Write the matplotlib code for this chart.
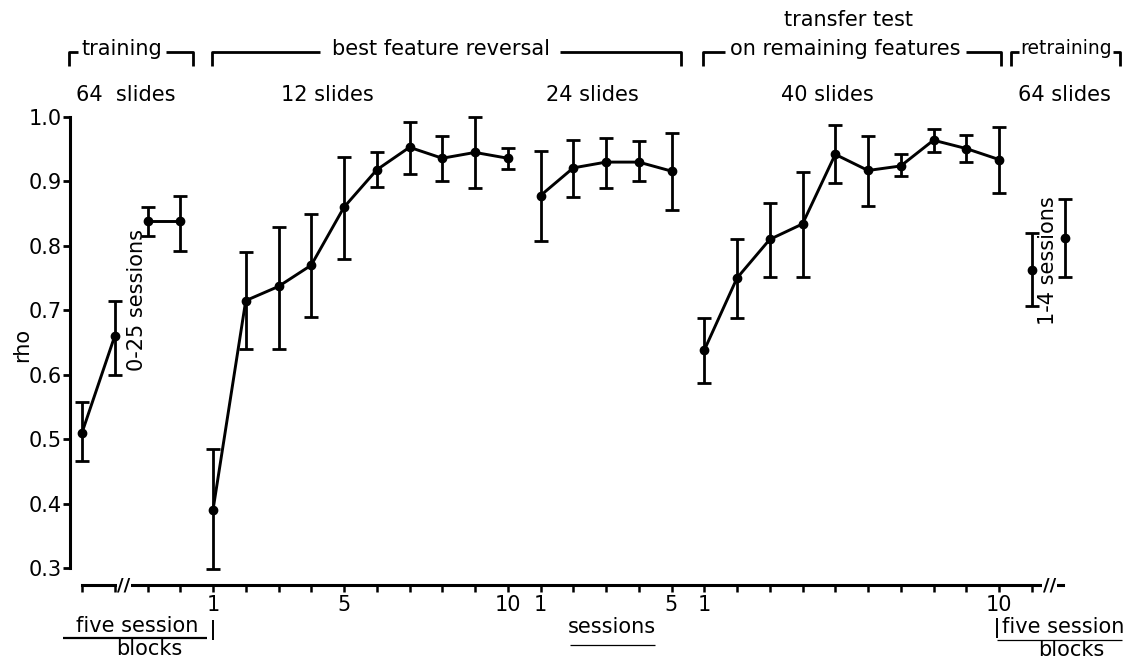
import matplotlib
matplotlib.use("Agg")
import matplotlib.pyplot as plt
from matplotlib.lines import Line2D
import numpy as np

# ---------------- data ----------------
train_blocks = [1, 2, 3, 4]
train_rho = [0.510, 0.660, 0.838, 0.838]
train_hi = [0.557, 0.715, 0.860, 0.878]
train_lo = [0.466, 0.600, 0.815, 0.792]

rev12_sessions = [1, 2, 3, 4, 5, 6, 7, 8, 9, 10]
rev12_rho = [0.390, 0.715, 0.737, 0.770, 0.860, 0.918, 0.953, 0.936, 0.945, 0.936]
rev12_hi = [0.484, 0.790, 0.830, 0.850, 0.938, 0.945, 0.992, 0.970, 1.000, 0.952]
rev12_lo = [0.298, 0.640, 0.640, 0.690, 0.780, 0.892, 0.912, 0.900, 0.890, 0.920]

rev24_sessions = [1, 2, 3, 4, 5]
rev24_rho = [0.878, 0.921, 0.930, 0.930, 0.916]
rev24_hi = [0.948, 0.965, 0.967, 0.962, 0.975]
rev24_lo = [0.807, 0.876, 0.890, 0.900, 0.855]

trans_sessions = [1, 2, 3, 4, 5, 6, 7, 8, 9, 10]
trans_rho = [0.638, 0.750, 0.810, 0.834, 0.942, 0.917, 0.924, 0.964, 0.951, 0.934]
trans_hi = [0.688, 0.810, 0.867, 0.915, 0.987, 0.970, 0.942, 0.982, 0.972, 0.985]
trans_lo = [0.587, 0.688, 0.752, 0.752, 0.897, 0.862, 0.908, 0.945, 0.930, 0.882]

retrain_blocks = [1, 2]
retrain_rho = [0.762, 0.812]
retrain_hi = [0.820, 0.872]
retrain_lo = [0.706, 0.752]

y_ticks = [0.3, 0.4, 0.5, 0.6, 0.7, 0.8, 0.9, 1.0]
y_ticklabels = ["0.3", "0.4", "0.5", "0.6", "0.7", "0.8", "0.9", "1.0"]

# ---------------- layout ----------------
W, H = 1131, 662
FS = 15
plt.rcParams['font.family'] = ['DejaVu Sans']


def fx(x):
    return x / W


def fy(y):
    return 1 - y / H


# offsets of each section on the shared session axis
OFF_TRAIN = -5
OFF_REV12 = -1
OFF_REV24 = 9
OFF_TRANS = 14
OFF_RETRAIN = 24

fig = plt.figure(figsize=(W / 100, H / 100), dpi=100)
ax = fig.add_axes([fx(70), fy(585), fx(1100) - fx(70), fy(117) - fy(585)])
y_bottom = 0.3 - 17 / 644.3
ax.set_xlim((70 - 213) / 32.75, (1100 - 213) / 32.75)
ax.set_ylim(y_bottom, 1.0)

LW = 2.1


def draw(xs, rho, hi, lo, off, segments):
    x = np.asarray(xs, float) + off
    r = np.asarray(rho)
    yerr = [r - np.asarray(lo), np.asarray(hi) - r]
    ax.errorbar(x, r, yerr=yerr, fmt='none', ecolor='black', elinewidth=2.0,
                capsize=5, capthick=2.0, clip_on=False, zorder=2)
    for a, b in segments:
        ax.plot(x[a:b], r[a:b], '-', color='black', lw=LW, zorder=3, clip_on=False)
    ax.plot(x, r, 'o', color='black', ms=6, zorder=4, clip_on=False)


draw(train_blocks, train_rho, train_hi, train_lo, OFF_TRAIN, [(0, 2), (2, 4)])
draw(rev12_sessions, rev12_rho, rev12_hi, rev12_lo, OFF_REV12, [(0, 10)])
draw(rev24_sessions, rev24_rho, rev24_hi, rev24_lo, OFF_REV24, [(0, 5)])
draw(trans_sessions, trans_rho, trans_hi, trans_lo, OFF_TRANS, [(0, 10)])
draw(retrain_blocks, retrain_rho, retrain_hi, retrain_lo, OFF_RETRAIN, [])

# spines
for s in ['top', 'right']:
    ax.spines[s].set_visible(False)
ax.spines['left'].set_bounds(0.3, 1.0)
ax.spines['left'].set_linewidth(2.2)
ax.spines['bottom'].set_bounds(-4, 25.95)
ax.spines['bottom'].set_linewidth(2.2)

ax.set_yticks(y_ticks)
ax.set_yticklabels(y_ticklabels)
ax.tick_params(axis='y', direction='out', length=5, width=2.0, labelsize=FS, pad=1)

x_major = [0, 4, 9, 10, 14, 15, 24]
x_major_labels = ["1", "5", "10", "1", "5", "1", "10"]
ax.set_xticks(x_major)
ax.set_xticklabels(x_major_labels)
ax.set_xticks([v for v in range(-4, 26) if v not in x_major], minor=True)
ax.tick_params(axis='x', which='both', direction='out', length=5, width=1.8,
               labelsize=FS, pad=2)

# axis breaks
for xb in (-2.72, 25.55):
    ax.text(xb, y_bottom, "//", ha='center', va='center', fontsize=13,
            fontweight='bold', bbox=dict(facecolor='white', edgecolor='none', pad=0.5),
            zorder=5, clip_on=False)

# y label and annotations
fig.text(fx(22), fy(345), "rho", rotation=90, ha='center', va='center', fontsize=FS)
fig.text(fx(137), fy(300), "0-25 sessions", rotation=90, ha='center', va='center', fontsize=FS)
fig.text(fx(1048), fy(261), "1-4 sessions", rotation=90, ha='center', va='center', fontsize=FS)

# headers
fig.text(fx(848), fy(20), "transfer test", ha='center', va='center', fontsize=FS)
hy = 49
fig.text(fx(122), fy(hy), "training", ha='center', va='center', fontsize=FS)
fig.text(fx(441), fy(hy), "best feature reversal", ha='center', va='center', fontsize=FS)
fig.text(fx(845), fy(hy), "on remaining features", ha='center', va='center', fontsize=FS)
fig.text(fx(1066), fy(hy), "retraining", ha='center', va='center', fontsize=FS - 1.5)

for xc, lab in [(126, "64  slides"), (327, "12 slides"), (592, "24 slides"),
                (827, "40 slides"), (1064, "64 slides")]:
    fig.text(fx(xc), fy(95), lab, ha='center', va='center', fontsize=FS)


def fline(xs, ys, lw=2.0):
    fig.add_artist(Line2D([fx(v) for v in xs], [fy(v) for v in ys], color='black',
                          lw=lw, solid_capstyle='butt'))


ly, ld = 52, 66
# training bracket
fline([69, 69, 78], [ld, ly, ly])
fline([166, 193, 193], [ly, ly, ld])
# best feature reversal bracket
fline([212, 212, 320], [ld, ly, ly])
fline([560, 681, 681], [ly, ly, ld])
# transfer test bracket
fline([703, 703, 725], [ld, ly, ly])
fline([966, 1001, 1001], [ly, ly, ld])
# retraining bracket
fline([1011, 1011, 1019], [ld, ly, ly])
fline([1113, 1120, 1120], [ly, ly, ld])

# bottom labels
fig.text(fx(137), fy(626), "five session", ha='center', va='center', fontsize=FS)
fline([63, 207], [638, 638], lw=1.6)
fig.text(fx(149), fy(649), "blocks", ha='center', va='center', fontsize=FS)
fline([213, 213], [620, 640], lw=1.4)

fig.text(fx(612), fy(627), "sessions", ha='center', va='center', fontsize=FS)
fline([570, 655], [645, 645], lw=0.9)

fig.text(fx(1063), fy(627), "five session", ha='center', va='center', fontsize=FS)
fline([997, 997], [618, 638], lw=1.4)
fline([997, 1122], [640, 640], lw=0.9)
fig.text(fx(1071), fy(650), "blocks", ha='center', va='center', fontsize=FS)

fig.savefig("out.png", dpi=100)
